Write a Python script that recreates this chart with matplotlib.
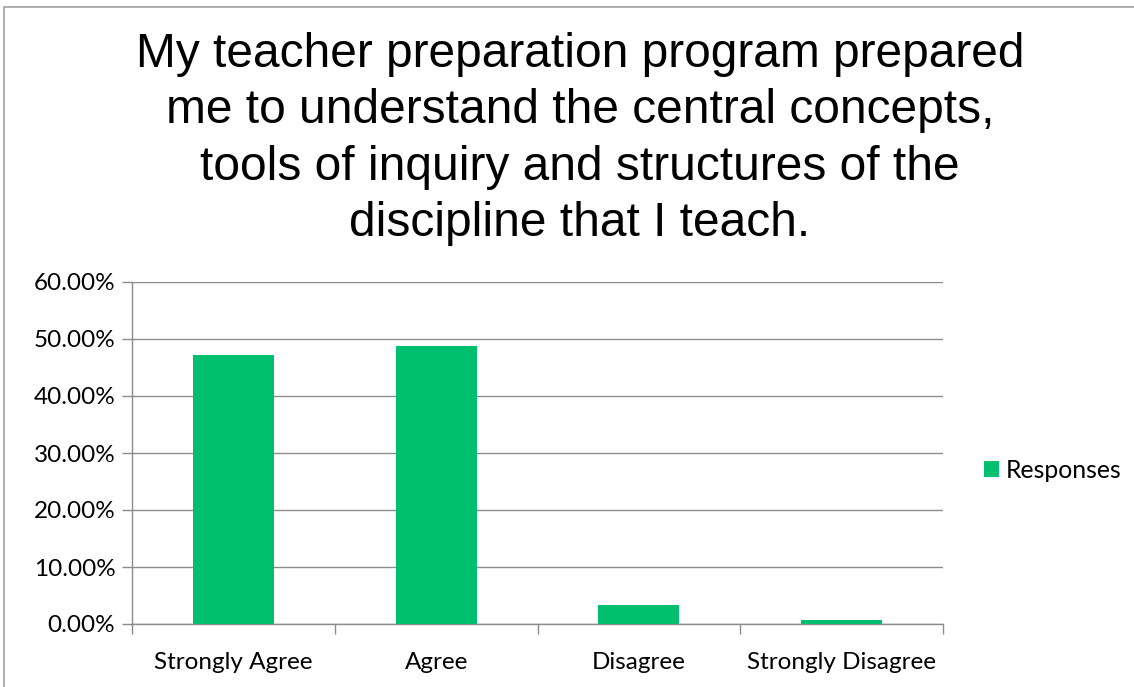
import matplotlib
matplotlib.use("Agg")
import matplotlib.pyplot as plt
from matplotlib.patches import Rectangle
from matplotlib.ticker import FuncFormatter

# data
categories = ["Strongly Agree", "Agree", "Disagree", "Strongly Disagree"]
responses = [0.472, 0.488, 0.034, 0.007]
y_ticks = [0.0, 0.1, 0.2, 0.3, 0.4, 0.5, 0.6]
title = ("My teacher preparation program prepared\n"
         "me to understand the central concepts,\n"
         "tools of inquiry and structures of the\n"
         "discipline that I teach.")

W, H = 1134, 687
fig = plt.figure(figsize=(W / 100, H / 100), dpi=100)

# outer chart frame
fig.patches.append(Rectangle((4 / W, -0.1), 1.2, (H - 7) / H + 0.1, transform=fig.transFigure,
                             fill=False, edgecolor="#A0A0A0", linewidth=1.2))

ax = fig.add_axes([132 / W, (H - 624) / H, (943 - 132) / W, (624 - 282) / H])
x = range(len(categories))
ax.bar(x, responses, width=0.4, color="#00C070", label="Responses", zorder=3)
ax.set_xlim(-0.5, len(categories) - 0.5)
ax.set_ylim(0, 0.6)
ax.set_yticks(y_ticks)
ax.yaxis.set_major_formatter(FuncFormatter(lambda v, _: f"{v * 100:.2f}%"))
ax.set_xticks(x)
ax.set_xticklabels(categories)
ax.set_xticks([i + 0.5 for i in range(-1, len(categories))], minor=True)
ax.tick_params(axis="x", which="major", length=0, pad=20)
ax.tick_params(axis="x", which="minor", length=7, color="#8C8C8C", width=1)
ax.tick_params(axis="y", length=7, color="#8C8C8C", width=1, pad=5)
for lab in ax.get_xticklabels() + ax.get_yticklabels():
    lab.set_fontfamily("Lato")
    lab.set_fontsize(17.5)
    lab.set_color("#000000")
ax.grid(axis="y", color="#8C8C8C", linewidth=1, zorder=0)
for side in ("top", "right"):
    ax.spines[side].set_visible(False)
for side in ("left", "bottom"):
    ax.spines[side].set_color("#8C8C8C")
    ax.spines[side].set_linewidth(1)

fig.text(580 / W, 1 - 139 / H, title, ha="center", va="center", fontsize=34.5,
         family="Liberation Sans", linespacing=1.33)

leg = fig.legend(loc="center left", bbox_to_anchor=(979 / W, 1 - 470 / H), frameon=False,
                 prop={"family": "Lato", "size": 17.8}, handlelength=0.6, handleheight=0.6,
                 handletextpad=0.3, borderpad=0.2, borderaxespad=0)

fig.savefig("out.png", dpi=100)
